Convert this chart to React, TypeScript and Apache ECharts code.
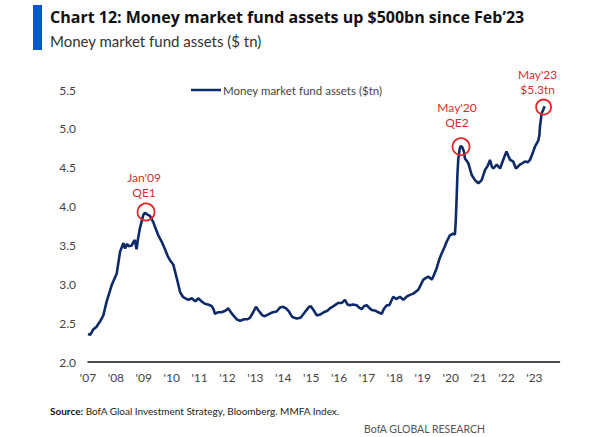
import React, { useEffect, useRef } from "react";
import * as echarts from "echarts";

const years: number[] = [
  2007.0, 2007.08, 2007.19, 2007.3, 2007.43, 2007.55, 2007.67, 2007.85, 2008.03, 2008.15,
  2008.27, 2008.33, 2008.4, 2008.45, 2008.57, 2008.62, 2008.68, 2008.74, 2008.8, 2008.86,
  2008.98, 2009.04, 2009.12, 2009.22, 2009.34, 2009.42, 2009.52, 2009.64, 2009.76, 2009.86,
  2009.94, 2010.06, 2010.18, 2010.3, 2010.4, 2010.48, 2010.6, 2010.72, 2010.85, 2010.95,
  2011.07, 2011.19, 2011.3, 2011.43, 2011.5, 2011.55, 2011.65, 2011.79, 2011.92, 2012.03,
  2012.12, 2012.21, 2012.33, 2012.45, 2012.6, 2012.72, 2012.81, 2012.92, 2013.02, 2013.12,
  2013.25, 2013.34, 2013.5, 2013.62, 2013.76, 2013.88, 2014.0, 2014.1, 2014.2, 2014.32,
  2014.48, 2014.62, 2014.75, 2014.9, 2014.98, 2015.1, 2015.2, 2015.32, 2015.45, 2015.58,
  2015.67, 2015.8, 2015.97, 2016.1, 2016.21, 2016.3, 2016.39, 2016.5, 2016.63, 2016.72,
  2016.81, 2016.9, 2016.99, 2017.1, 2017.17, 2017.3, 2017.4, 2017.53, 2017.6, 2017.71,
  2017.8, 2017.94, 2018.05, 2018.18, 2018.3, 2018.42, 2018.52, 2018.66, 2018.84, 2019.02,
  2019.1, 2019.2, 2019.32, 2019.4, 2019.5, 2019.6, 2019.68, 2019.78, 2019.86, 2019.97,
  2020.08, 2020.15, 2020.18, 2020.21, 2020.24, 2020.27, 2020.32, 2020.36, 2020.42, 2020.48,
  2020.51, 2020.63, 2020.75, 2020.87, 2020.99, 2021.05, 2021.11, 2021.23, 2021.32, 2021.41,
  2021.47, 2021.53, 2021.65, 2021.77, 2021.88, 2022.0, 2022.08, 2022.13, 2022.24, 2022.34,
  2022.48, 2022.58, 2022.66, 2022.76, 2022.84, 2022.95, 2023.02, 2023.14, 2023.18, 2023.2,
  2023.26, 2023.31, 2023.37,
];

const assets: number[] = [
  2.36, 2.35, 2.42, 2.45, 2.52, 2.6, 2.78, 2.99, 3.14, 3.42,
  3.53, 3.46, 3.52, 3.49, 3.5, 3.54, 3.57, 3.45, 3.6, 3.72,
  3.89, 3.92, 3.9, 3.88, 3.8, 3.72, 3.63, 3.55, 3.45, 3.36,
  3.31, 3.25, 3.08, 2.9, 2.84, 2.82, 2.8, 2.82, 2.78, 2.82,
  2.78, 2.75, 2.74, 2.72, 2.68, 2.62, 2.64, 2.64, 2.66, 2.69,
  2.64, 2.6, 2.55, 2.53, 2.55, 2.55, 2.57, 2.64, 2.71, 2.66,
  2.6, 2.59, 2.62, 2.64, 2.65, 2.7, 2.71, 2.69, 2.65, 2.58,
  2.56, 2.57, 2.63, 2.7, 2.72, 2.66, 2.6, 2.61, 2.64, 2.66,
  2.69, 2.72, 2.76, 2.76, 2.8, 2.74, 2.73, 2.74, 2.73, 2.7,
  2.68, 2.72, 2.73, 2.69, 2.67, 2.66, 2.64, 2.62, 2.68, 2.73,
  2.73, 2.84, 2.81, 2.84, 2.8, 2.84, 2.86, 2.88, 2.93, 3.06,
  3.08, 3.1, 3.06, 3.12, 3.21, 3.33, 3.4, 3.48, 3.55, 3.63,
  3.65, 3.64, 3.8, 4.08, 4.4, 4.6, 4.74, 4.78, 4.76, 4.7,
  4.62, 4.56, 4.41, 4.34, 4.3, 4.32, 4.34, 4.47, 4.52, 4.6,
  4.52, 4.49, 4.54, 4.49, 4.6, 4.71, 4.64, 4.6, 4.58, 4.49,
  4.54, 4.56, 4.58, 4.57, 4.6, 4.7, 4.77, 4.85, 4.92, 5.03,
  5.2, 5.24, 5.29,
];

const markerYears: number[] = [2009.08, 2020.37, 2023.33];
const markerValues: number[] = [3.93, 4.77, 5.28];
const markerLabels: string[] = ["Jan'09\nQE1", "May'20\nQE2", "May'23\n$5.3tn"];

const seriesName = "Money market fund assets ($tn)";
const titleText = "Chart 12: Money market fund assets up $500bn since Feb\u201923";
const subtitleText = "Money market fund assets ($ tn)";
const sourceLabel = "Source:";
const sourceText = " BofA Gloal Investment Strategy, Bloomberg. MMFA Index.";
const brandText = "BofA GLOBAL RESEARCH";

const FONT = "Lato, 'Noto Sans', sans-serif";

export default function App() {
  const ref = useRef<HTMLDivElement>(null);

  useEffect(() => {
    document.body.style.margin = "0";
    const chart = echarts.init(ref.current!, null, { renderer: "svg" });
    const labelOffsets = [[-2, 0], [-4, 0], [-6, 0]];
    const labelDistances = [3, 8, 2];
    const markData = markerYears.map((y, i) => ({
      coord: [y, markerValues[i]],
      symbolSize: i === 2 ? 15 : 17,
      label: {
        show: true,
        position: "top",
        distance: labelDistances[i],
        offset: labelOffsets[i],
        formatter: markerLabels[i],
        color: "#d12f2f",
        fontSize: 12,
        lineHeight: 14.5,
        fontFamily: FONT,
      },
    }));

    chart.setOption({
      animation: false,
      backgroundColor: "#ffffff",
      textStyle: { fontFamily: FONT },
      grid: { left: 88, right: 41.5, top: 90, bottom: 75, containLabel: false },
      legend: {
        show: true,
        left: 186,
        top: 79,
        icon: "rect",
        itemWidth: 30,
        itemHeight: 2.5,
        itemGap: 10,
        textStyle: { color: "#444", fontSize: 11.5, fontFamily: FONT, padding: [0, 0, 0, -3] },
        data: [seriesName],
      },
      xAxis: {
        type: "value",
        min: 2007,
        max: 2023.9,
        interval: 1,
        axisLine: { show: true, lineStyle: { color: "#111", width: 1.5 } },
        axisTick: { show: false },
        splitLine: { show: false },
        axisLabel: {
          color: "#444",
          fontSize: 12,
          fontFamily: FONT,
          margin: 9,
          showMaxLabel: false,
          formatter: (v: number) =>
            Math.abs(v - Math.round(v)) < 1e-6 ? "'" + String(Math.round(v)).slice(2) : "",
        },
      },
      yAxis: {
        type: "value",
        min: 2,
        max: 5.5,
        interval: 0.5,
        axisLine: { show: false },
        axisTick: { show: false },
        splitLine: { show: false },
        axisLabel: {
          color: "#444",
          fontSize: 12,
          fontFamily: FONT,
          margin: 12,
          formatter: (v: number) => v.toFixed(1),
        },
      },
      series: [
        {
          name: seriesName,
          type: "line",
          showSymbol: false,
          data: years.map((y, i) => [y, assets[i]]),
          itemStyle: { color: "#0e2a68" },
          lineStyle: { color: "#0e2a68", width: 2.6 },
          markPoint: {
            symbol: "circle",
            itemStyle: { color: "rgba(0,0,0,0)", borderColor: "#e02a2a", borderWidth: 1.8 },
            data: markData,
          },
        },
      ],
      graphic: [
        { type: "rect", shape: { x: 33, y: 5, width: 9, height: 45 }, style: { fill: "#0a57c9" } },
        {
          type: "text",
          x: 50,
          y: 9,
          style: {
            text: titleText,
            fill: "#111",
            font: "bold 16px 'Liberation Sans Narrow', 'Open Sans', sans-serif",
          },
        },
        {
          type: "text",
          x: 50,
          y: 33,
          style: { text: subtitleText, fill: "#333", font: "15px " + FONT },
        },
        {
          type: "text",
          x: 50,
          y: 406,
          style: {
            rich: {
              b: { fontWeight: "bold", fill: "#111", fontSize: 10, fontFamily: FONT },
              n: { fill: "#222", fontSize: 10, fontFamily: FONT },
            },
            text: "{b|" + sourceLabel + "}{n|" + sourceText + "}",
          } as any,
        },
        {
          type: "text",
          x: 485,
          y: 423,
          style: {
            text: brandText,
            fill: "#555",
            font: "10.5px " + FONT,
            align: "right",
          },
        },
      ],
    });
    return () => chart.dispose();
  }, []);

  return (
    <div
      ref={ref}
      style={{ position: "absolute", left: 0, top: 0, width: 601, height: 437 }}
    />
  );
}
